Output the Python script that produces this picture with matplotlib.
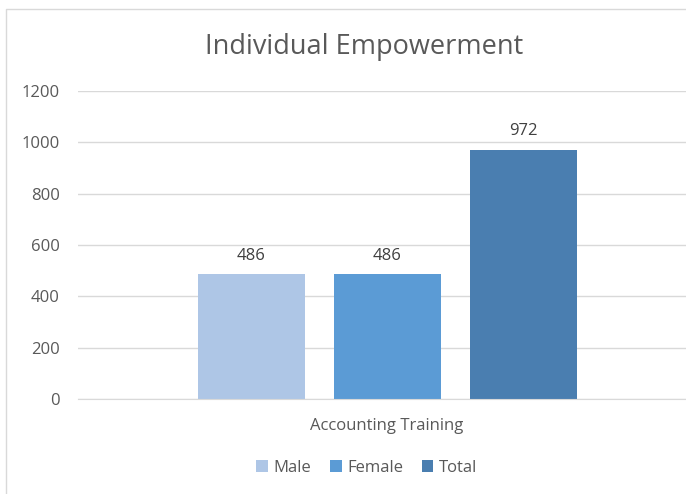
import matplotlib
matplotlib.use("Agg")
import matplotlib.pyplot as plt
from matplotlib.patches import Patch
from matplotlib.lines import Line2D

plt.rcParams['font.family'] = ['Open Sans', 'DejaVu Sans']

title = "Individual Empowerment"
category = "Accounting Training"
series = ["Male", "Female", "Total"]
values = [486, 486, 972]
colors = ["#AEC6E6", "#5B9BD5", "#4A7EB0"]
yticks = [0, 200, 400, 600, 800, 1000, 1200]

W, H = 686, 494
fig = plt.figure(figsize=(W/100, H/100), dpi=100)
fig.patch.set_facecolor("white")
# frame: only left and top edges visible
fig.lines.append(Line2D([5.5/W, 5.5/W, 1.0], [0, 1 - 9.5/H, 1 - 9.5/H], transform=fig.transFigure,
                        color="#D9D9D9", linewidth=1.0))

ax = fig.add_axes([78/W, (H-399)/H, (686-78)/W, (399-91)/H])
ax.set_facecolor("none")
positions = [-1, 0, 1]
width = 107/136
bars = ax.bar(positions, values, width=width, color=colors, zorder=3)
for b, v in zip(bars, values):
    ax.text(b.get_x() + b.get_width()/2, v + 40, str(v), ha="center", va="bottom",
            fontsize=12, color="#404040")
ax.set_xlim((78-387)/136, (686-387)/136)
ax.set_ylim(0, 1200)
ax.set_yticks(yticks)
ax.set_yticklabels([str(t) for t in yticks])
ax.yaxis.grid(True, color="#D9D9D9", linewidth=1.0, zorder=0)
ax.tick_params(axis="y", length=0, labelsize=12, labelcolor="#595959", pad=13)
ax.set_xticks([0])
ax.set_xticklabels([category])
ax.tick_params(axis="x", length=0, labelsize=12, labelcolor="#595959", pad=14)
for s in ["top", "right", "left"]:
    ax.spines[s].set_visible(False)
ax.spines["bottom"].set_color("#D9D9D9")
ax.spines["bottom"].set_zorder(4)

fig.text(364/W, 1 - 47/H, title, ha="center", va="center", fontsize=19.5, color="#595959")

handles = [Patch(facecolor=c, edgecolor="none") for c in colors]
fig.legend(handles, series, loc="center", bbox_to_anchor=(367/W, 1 - 468/H), ncol=3,
           frameon=False, fontsize=12, labelcolor="#595959", handlelength=0.7,
           handleheight=0.7, handletextpad=0.35, columnspacing=1.1)

fig.savefig("out.png", dpi=100, facecolor="white")
